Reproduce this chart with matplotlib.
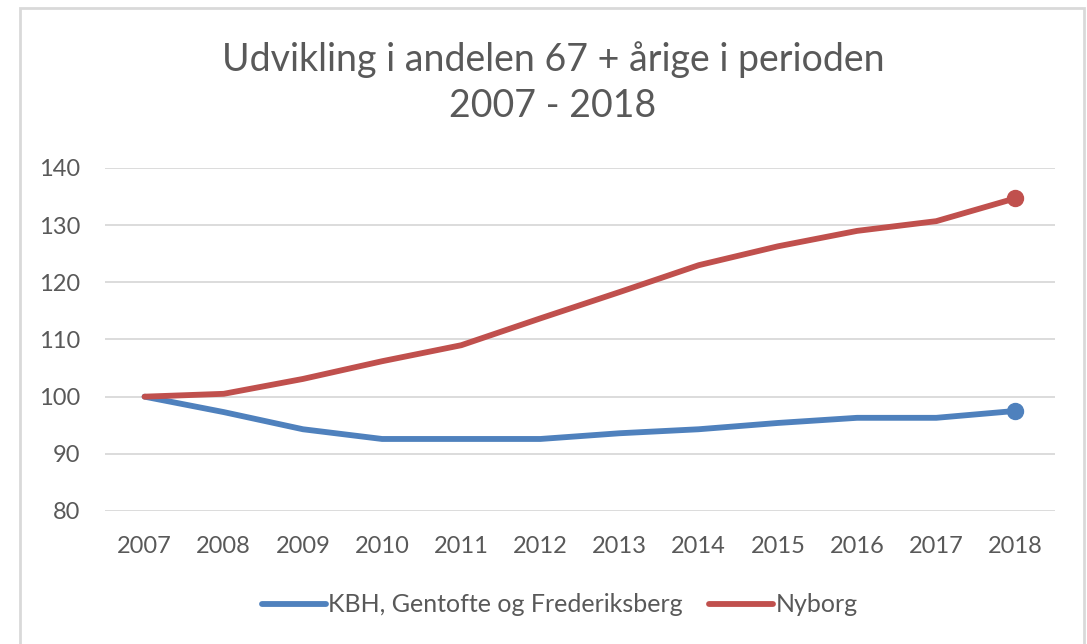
import matplotlib.pyplot as plt
from matplotlib.patches import Rectangle

years = ['2007', '2008', '2009', '2010', '2011', '2012', '2013', '2014', '2015', '2016', '2017', '2018']
kbh = [100, 97.3, 94.3, 92.6, 92.6, 92.6, 93.6, 94.3, 95.4, 96.3, 96.3, 97.5]
nyborg = [100, 100.5, 103.1, 106.2, 109.0, 113.7, 118.3, 123.0, 126.3, 129.0, 130.7, 134.7]

blue = '#4f81bd'
red = '#c0504d'
grey_txt = '#595959'

plt.rcParams['font.family'] = ['Lato', 'DejaVu Sans']

fig = plt.figure(figsize=(10.87, 6.44), dpi=100)
fig.patches.append(Rectangle((20 / 1087, -0.02), 1064 / 1087, 1.02 - 8 / 644,
                             transform=fig.transFigure, fill=False,
                             edgecolor='#d9d9d9', linewidth=2))

ax = fig.add_axes([105 / 1087, 1 - 511 / 644, 950 / 1087, 343 / 644])
x = list(range(len(years)))
ax.plot(x, kbh, color=blue, lw=4.2, solid_capstyle='round', solid_joinstyle='round',
        label='KBH, Gentofte og Frederiksberg')
ax.plot(x, nyborg, color=red, lw=4.2, solid_capstyle='round', solid_joinstyle='round',
        label='Nyborg')
ax.plot(x[-1], kbh[-1], 'o', color=blue, ms=11.5)
ax.plot(x[-1], nyborg[-1], 'o', color=red, ms=11.5)

ax.set_xlim(-0.5, len(years) - 0.5)
ax.set_ylim(80, 140)
ax.set_yticks(range(80, 141, 10))
ax.set_xticks(x)
ax.set_xticklabels(years)
ax.grid(axis='y', color='#d9d9d9', lw=1.3)
ax.set_axisbelow(True)
for s in ax.spines.values():
    s.set_visible(False)
ax.tick_params(length=0, labelsize=17, labelcolor=grey_txt)
ax.tick_params(axis='x', pad=18)
ax.tick_params(axis='y', pad=18)

fig.text(553 / 1087, 1 - 60 / 644, 'Udvikling i andelen 67 + årige i perioden',
         ha='center', va='center', fontsize=27, color=grey_txt)
fig.text(553 / 1087, 1 - 106 / 644, '2007 - 2018',
         ha='center', va='center', fontsize=27, color=grey_txt)

fig.legend(loc='center', bbox_to_anchor=(560 / 1087, 1 - 605 / 644), ncol=2,
           frameon=False, fontsize=18, labelcolor=grey_txt, handlelength=2.55,
           handletextpad=0.1, columnspacing=1.05)

fig.savefig('out.png', dpi=100)
